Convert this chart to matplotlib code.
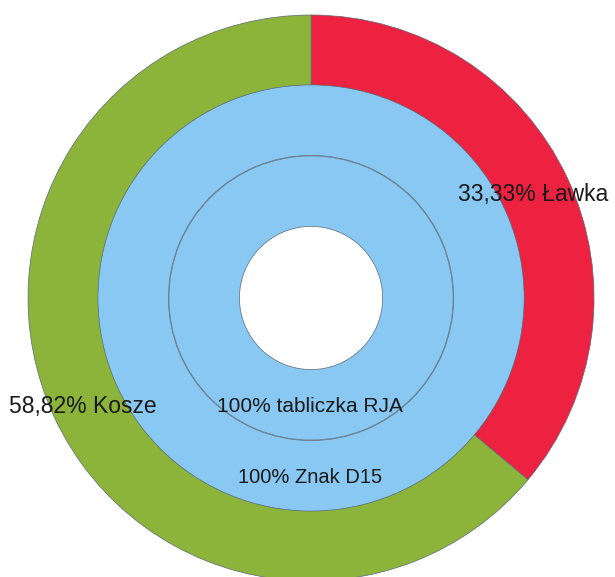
import matplotlib
matplotlib.use("Agg")
import matplotlib.pyplot as plt

# Data
outer_labels = ["Ławka", "Kosze"]
outer_values = [36.1, 63.9]
outer_texts = ["33,33% Ławka", "58,82% Kosze"]
outer_colors = ["#ec2240", "#8cb43a"]

middle_values = [100]
middle_text = "100% Znak D15"
inner_values = [100]
inner_text = "100% tabliczka RJA"
blue = "#88c8f2"

plt.rcParams['font.family'] = ['Liberation Sans', 'DejaVu Sans']

fig = plt.figure(figsize=(6.15, 5.77), dpi=100)
ax = fig.add_axes([0, 0, 1, 1])
ax.axis('off')

ring_w = 0.249
edge = dict(edgecolor="#5a6a78", linewidth=0.5)

ax.pie(outer_values, radius=1.0, colors=outer_colors, startangle=90, counterclock=False,
       wedgeprops=dict(width=ring_w, **edge))
ax.pie(middle_values, radius=0.753, colors=[blue], startangle=90, counterclock=False,
       wedgeprops=dict(width=ring_w, **edge))
ax.pie(inner_values, radius=0.502, colors=[blue], startangle=90, counterclock=False,
       wedgeprops=dict(width=ring_w, **edge))
ax.set_xlim(-1.099, 1.074)
ax.set_ylim(-0.986, 1.053)
ax.set_aspect('auto')

fs = 15
tc = '#1a1a1a'
ax.text(0.519, 0.367, outer_texts[0], fontsize=16.5, ha='left', va='center', color=tc)
ax.text(-1.067, -0.382, outer_texts[1], fontsize=16.5, ha='left', va='center', color=tc)
ax.text(-0.004, -0.385, inner_text, fontsize=fs, ha='center', va='center', color=tc)
ax.text(-0.004, -0.633, middle_text, fontsize=fs - 0.5, ha='center', va='center', color=tc)

fig.savefig("out.png", dpi=100)
